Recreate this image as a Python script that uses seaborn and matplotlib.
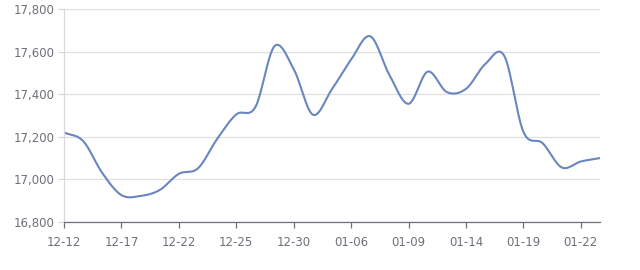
import numpy as np
import pandas as pd
import matplotlib
matplotlib.use("Agg")
import matplotlib.pyplot as plt
import seaborn as sns

dates = ["12-12", "12-13", "12-16", "12-17", "12-18", "12-20", "12-22", "12-23",
         "12-24", "12-25", "12-26", "12-27", "12-30", "01-02", "01-03", "01-06",
         "01-07", "01-08", "01-09", "01-10", "01-13", "01-14", "01-15", "01-17",
         "01-19", "01-20", "01-21", "01-22", "01-23"]
prices = [17220, 17180, 17030, 16926, 16922, 16950, 17026, 17052, 17190, 17305,
          17340, 17626, 17518, 17304, 17424, 17563, 17672, 17490, 17355, 17506,
          17410, 17425, 17541, 17580, 17223, 17170, 17056, 17084, 17100]
tick_every = 3
y_ticks = [16800, 17000, 17200, 17400, 17600, 17800]

# smooth the curve through the data points (cubic Hermite, Catmull-Rom tangents)
p = np.array(prices, dtype=float)
n = len(p)
idx = np.arange(n, dtype=float)
m = np.zeros(n)
m[1:-1] = (p[2:] - p[:-2]) / 2.0
m[0] = p[1] - p[0]
m[-1] = p[-1] - p[-2]
xs, ys = [], []
for i in range(n - 1):
    t = np.linspace(0, 1, 30, endpoint=(i == n - 2))
    h00 = 2 * t**3 - 3 * t**2 + 1
    h10 = t**3 - 2 * t**2 + t
    h01 = -2 * t**3 + 3 * t**2
    h11 = t**3 - t**2
    ys.append(h00 * p[i] + h10 * m[i] + h01 * p[i + 1] + h11 * m[i + 1])
    xs.append(i + t)
df = pd.DataFrame({"x": np.concatenate(xs), "price": np.concatenate(ys)})

sns.set_theme(style="white")
plt.rcParams["font.family"] = ["DejaVu Sans"]

fig = plt.figure(figsize=(6.4, 2.7), dpi=100)
ax = fig.add_axes([0.1, 0.178, 0.8375, 0.7885])
sns.lineplot(data=df, x="x", y="price", ax=ax, color="#6a86bf", linewidth=1.5)

ax.set_xlim(0, n - 1)
ax.set_ylim(16800, 17800)
ax.set_yticks(y_ticks)
ax.set_yticklabels([f"{v:,}" for v in y_ticks])
tick_pos = list(range(0, n, tick_every))
ax.set_xticks(tick_pos)
ax.set_xticklabels([dates[i] for i in tick_pos])
ax.set_xlabel("")
ax.set_ylabel("")

ax.grid(axis="y", color="#e0e0e0", linewidth=0.9)
ax.grid(axis="x", visible=False)
for s in ["top", "right"]:
    ax.spines[s].set_visible(False)
ax.spines["left"].set_color("#d9d9d9")
ax.spines["left"].set_linewidth(0.9)
ax.spines["bottom"].set_color("#6e7079")
ax.spines["bottom"].set_linewidth(0.9)
ax.tick_params(axis="x", which="major", bottom=True, length=4, width=0.9,
               color="#6e7079", labelsize=8.5, labelcolor="#6e7079", pad=6)
ax.tick_params(axis="y", which="major", left=True, length=4, width=0.9,
               color="#d9d9d9", labelsize=8.5, labelcolor="#6e7079", pad=3)

fig.savefig("out.png", dpi=100, facecolor="white")
